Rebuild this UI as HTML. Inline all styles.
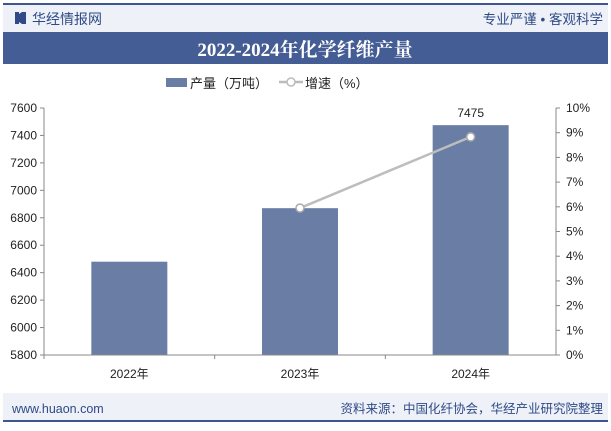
<!DOCTYPE html>
<html><head><meta charset="utf-8"><style>
body{margin:0;width:611px;height:426px;background:#fff;overflow:hidden;font-family:"Liberation Sans","Noto Sans CJK SC",sans-serif;}
svg text{font-family:"Liberation Sans","Noto Sans CJK SC",sans-serif;}
</style></head><body>
<svg width="611" height="426" xmlns="http://www.w3.org/2000/svg">
<rect x="3" y="3" width="605" height="2" fill="#3e5690"/>
<rect x="3" y="5" width="605" height="27" fill="#eef1f8"/>
<g><rect x="15" y="12" width="4" height="12" fill="#2f4a86"/><rect x="22" y="12" width="4" height="12" fill="#2f4a86"/><polygon points="19,14 22,12 22,24 19,22" fill="#2f4a86"/></g>
<text x="32" y="24" font-size="14" fill="#2f4a86">华经情报网</text>
<text x="603" y="24" font-size="13.5" fill="#2f4a86" text-anchor="end">专业严谨 • 客观科学</text>
<rect x="3" y="32" width="605" height="32" fill="#445d94"/>
<text x="305" y="56" font-size="19" font-weight="bold" fill="#fff" text-anchor="middle" style="font-family:'Liberation Serif','Noto Serif CJK SC',serif">2022-2024年化学纤维产量</text>
<g>
<rect x="166" y="78" width="21" height="9" fill="#6a7ea5"/>
<text x="190" y="88" font-size="13" fill="#222">产量（万吨）</text>
<line x1="279" y1="82" x2="303" y2="82" stroke="#bbb" stroke-width="2.5"/><circle cx="291" cy="82" r="4" fill="#fff" stroke="#bbb" stroke-width="1.5"/>
<text x="305" y="88" font-size="13" fill="#222">增速（%）</text>
</g>
<g id="plot"></g>
<rect x="3" y="393" width="605" height="28" fill="#eef1f8"/>
<rect x="3" y="420" width="605" height="2" fill="#3e5690"/>
<text x="12" y="413" font-size="12.5" fill="#2f4a86">www.huaon.com</text>
<text x="603" y="413" font-size="12.5" fill="#2f4a86" text-anchor="end">资料来源：中国化纤协会，华经产业研究院整理</text>
</svg>
<script>
const categories=["2022年","2023年","2024年"];
const outputValues=[6480,6870,7475];
const growthValues=[null,5.95,8.83];
const leftTicks=[5800,6000,6200,6400,6600,6800,7000,7200,7400,7600];
const rightTicks=[0,1,2,3,4,5,6,7,8,9,10];
const NS="http://www.w3.org/2000/svg";
const g=document.getElementById('plot');
const L=44,R=556,T=108,B=355;
const yL=v=>B-(v-5800)/(7600-5800)*(B-T);
const yR=v=>B-v/10*(B-T);
const bw=(R-L)/categories.length;
const xC=i=>L+bw*(i+0.5);
function mk(t,a){const e=document.createElementNS(NS,t);for(const k in a)e.setAttribute(k,a[k]);g.appendChild(e);return e;}
let e;
e=mk('line',{x1:L,y1:T,x2:L,y2:B,stroke:'#888'});


e=mk('line',{x1:R,y1:T,x2:R,y2:B,stroke:'#888'});


leftTicks.forEach(v=>{mk('line',{x1:L-4,y1:yL(v),x2:L,y2:yL(v),stroke:'#888'});
e=mk('text',{x:L-7,y:yL(v)+4,'font-size':12,'text-anchor':'end',fill:'#222'});e.textContent=v;

});
rightTicks.forEach(v=>{mk('line',{x1:R,y1:yR(v),x2:R+4,y2:yR(v),stroke:'#888'});
e=mk('text',{x:R+10,y:yR(v)+4,'font-size':12,fill:'#222'});e.textContent=v+'%';

});
categories.forEach((c,i)=>{
e=mk('rect',{x:xC(i)-38,y:yL(outputValues[i]),width:76,height:B-yL(outputValues[i]),fill:'#6a7ea5'});


e=mk('text',{x:xC(i),y:B+23,'font-size':12,'text-anchor':'middle',fill:'#222'});e.textContent=c;


mk('line',{x1:L+bw*i,y1:B,x2:L+bw*i,y2:B+4,stroke:'#888'});
});
e=mk('line',{x1:L,y1:B,x2:R,y2:B,stroke:'#888'});


e=mk('text',{x:xC(2),y:yL(outputValues[2])-8,'font-size':12,'text-anchor':'middle',fill:'#222'});e.textContent=outputValues[2];


const pts=[];growthValues.forEach((v,i)=>{if(v!==null)pts.push([xC(i),yR(v)]);});
e=mk('polyline',{points:pts.map(p=>p.join(',')).join(' '),fill:'none',stroke:'#bdbdbd','stroke-width':2.5});


pts.forEach(p=>{e=mk('circle',{cx:p[0],cy:p[1],r:4,fill:'#fff',stroke:'#aaa','stroke-width':1.5});

});
</script>
</body></html>
